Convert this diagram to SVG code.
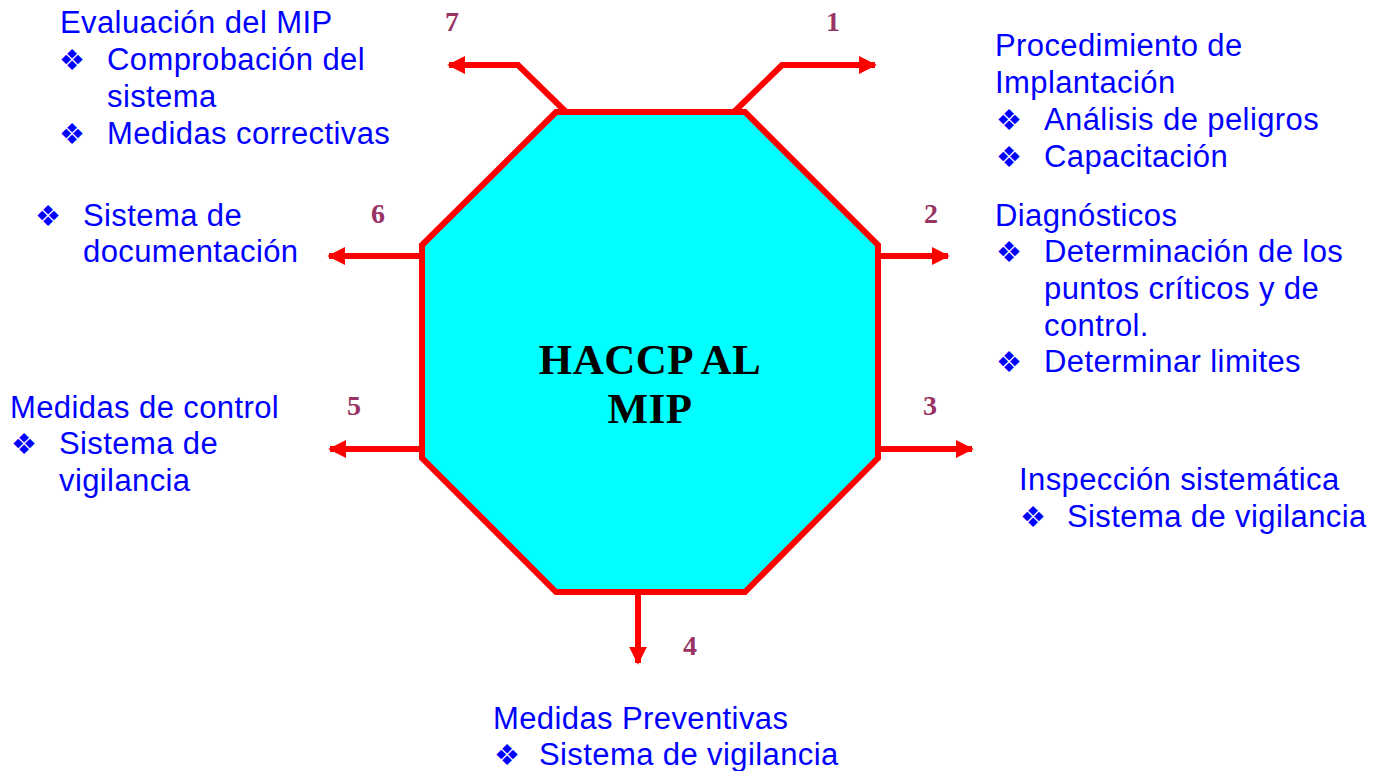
<svg xmlns="http://www.w3.org/2000/svg" width="1379" height="771" viewBox="0 0 1379 771">
<defs>
<style>
.t{font-family:"Liberation Sans",Arial,sans-serif;font-size:31px;letter-spacing:0.4px;fill:#0000FF}
.b{font-family:"DejaVu Sans",sans-serif;font-size:29px;fill:#0000FF}
.n{font-family:"Liberation Serif","Times New Roman",serif;font-size:28px;font-weight:bold;fill:#993366;text-anchor:middle}
.h{font-family:"Liberation Serif","Times New Roman",serif;font-weight:bold;font-size:43px;letter-spacing:0.5px;text-anchor:middle;fill:#000}
.c{fill:none;stroke:#FF0000;stroke-width:6;marker-end:url(#ah)}
</style>
<marker id="ah" viewBox="0 0 10 10" refX="9" refY="5" markerWidth="3" markerHeight="3.1" orient="auto" markerUnits="strokeWidth">
<path d="M0,0 L10,5 L0,10 z" fill="#FF0000"/>
</marker>
</defs>
<rect width="1379" height="771" fill="#FFFFFF"/>
<g id="connectors">
<polyline class="c" points="566,112 518,65 449,65"/>
<polyline class="c" points="734,112 782,65 875,65"/>
<polyline class="c" points="878,256 948,256"/>
<polyline class="c" points="878,449 972,449"/>
<polyline class="c" points="638,592 638,663"/>
<polyline class="c" points="422,449 330,449"/>
<polyline class="c" points="422,256 329,256"/>
</g>
<g id="center">
<polygon points="556,112 745,112 878,245 878,458 745,592 556,592 422,458 422,245" fill="#00FFFF" stroke="#FF0000" stroke-width="6"/>
<text class="h" x="650" y="374">HACCP AL</text>
<text class="h" x="650" y="423">MIP</text>
</g>
<g id="labels-numbers">
<text class="n" x="452" y="31">7</text>
<text class="n" x="833" y="31">1</text>
<text class="n" x="378" y="223">6</text>
<text class="n" x="931" y="223">2</text>
<text class="n" x="354" y="415">5</text>
<text class="n" x="930" y="415">3</text>
<text class="n" x="690" y="655">4</text>
</g>
<g id="node7">
<text class="t" x="60" y="33">Evaluación del MIP</text>
<text class="b" x="59" y="70">❖</text>
<text class="t" x="107" y="70">Comprobación del</text>
<text class="t" x="107" y="107">sistema</text>
<text class="b" x="59" y="144">❖</text>
<text class="t" x="107" y="144">Medidas correctivas</text>
</g>
<g id="node1">
<text class="t" x="995" y="56">Procedimiento de</text>
<text class="t" x="995" y="93">Implantación</text>
<text class="b" x="996" y="130">❖</text>
<text class="t" x="1044" y="130">Análisis de peligros</text>
<text class="b" x="996" y="167">❖</text>
<text class="t" x="1044" y="167">Capacitación</text>
</g>
<g id="node2">
<text class="t" x="995" y="226">Diagnósticos</text>
<text class="b" x="996" y="262">❖</text>
<text class="t" x="1044" y="262">Determinación de los</text>
<text class="t" x="1044" y="299">puntos críticos y de</text>
<text class="t" x="1044" y="336">control.</text>
<text class="b" x="996" y="372">❖</text>
<text class="t" x="1044" y="372">Determinar limites</text>
</g>
<g id="node3">
<text class="t" x="1019" y="490">Inspección sistemática</text>
<text class="b" x="1020" y="527">❖</text>
<text class="t" x="1067" y="527">Sistema de vigilancia</text>
</g>
<g id="node4">
<text class="t" x="493" y="729">Medidas Preventivas</text>
<text class="b" x="494" y="765">❖</text>
<text class="t" x="539" y="765">Sistema de vigilancia</text>
</g>
<g id="node5">
<text class="t" x="10" y="418">Medidas de control</text>
<text class="b" x="11" y="454">❖</text>
<text class="t" x="59" y="454">Sistema de</text>
<text class="t" x="59" y="491">vigilancia</text>
</g>
<g id="node6">
<text class="b" x="35" y="226">❖</text>
<text class="t" x="83" y="226">Sistema de</text>
<text class="t" x="83" y="262">documentación</text>
</g>
</svg>
